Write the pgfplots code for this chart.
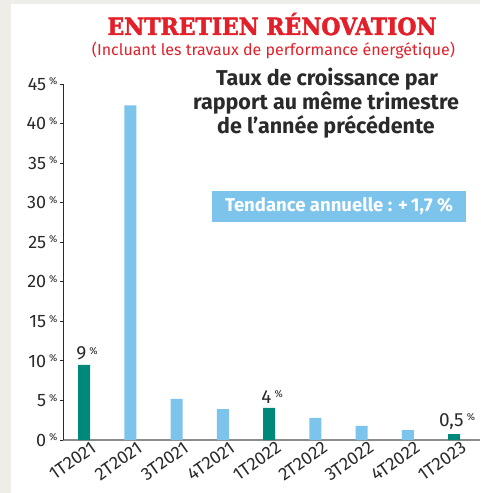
\documentclass[border=0pt]{standalone}
\usepackage{pgfplots}
\pgfplotsset{compat=1.18}
\usepackage{fontspec}
\setmainfont{Fira Sans}
\newfontfamily\titlefont{DejaVu Serif Condensed Bold}[FakeBold=2]

\definecolor{bgGray}{HTML}{EEEDE8}
\definecolor{titleRed}{HTML}{E3202A}
\definecolor{tealBar}{HTML}{00887A}
\definecolor{skyBar}{HTML}{7DC4EC}
\definecolor{inkDark}{HTML}{2A2A2A}

\begin{document}
\begin{tikzpicture}[x=1pt,y=1pt]
% page background and white panel
\fill[bgGray] (0,0) rectangle (480,493);
\fill[white] (11,0) rectangle (480,489);

\begin{axis}[
    at={(63pt,53pt)}, anchor=south west,
    scale only axis, width=417pt, height=356pt,
    xmin=-0.454, xmax=8.56, ymin=0, ymax=45,
    axis lines=left,
    axis line style={-},
    x axis line style={draw=black!45, line width=1.6pt},
    y axis line style={draw=inkDark, line width=0.8pt},
    /pgf/number format/assume math mode=true,
    ytick={0,5,...,45},
    yticklabel={\pgfmathprintnumber{\tick}\,\raisebox{0.3em}{\fontsize{10}{10}\selectfont\%}},
    y tick label style={font=\fontsize{18}{18}\selectfont, text=inkDark, xshift=1pt},
    tick align=outside, major tick length=3pt,
    major y tick style={draw=inkDark, line width=0.8pt},
    xtick={0,...,8},
    xticklabels={1T2021,2T2021,3T2021,4T2021,1T2022,2T2022,3T2022,4T2022,1T2023},
    major x tick style={draw=none},
    x tick label style={rotate=35, anchor=north east, font=\fontsize{18}{18}\selectfont,
        text=inkDark, xshift=10pt, yshift=2pt},
    clip=false,
]
\addplot[ybar, bar width=12pt, bar shift=0pt, fill=skyBar, draw=none]
    coordinates {(1,42.3) (2,5.2) (3,3.9) (5,2.8) (6,1.8) (7,1.25)};
\addplot[ybar, bar width=12pt, bar shift=0pt, fill=tealBar, draw=none,
    point meta=explicit symbolic,
    nodes near coords={\pgfplotspointmeta\,\raisebox{0.3em}{\fontsize{10}{10}\selectfont\%}},
    nodes near coords style={font=\fontsize{19}{19}\selectfont, text=inkDark, anchor=south, xshift=3pt, yshift=1pt}]
    coordinates {(0,9.5) [9] (4,4.05) [4] (8,0.75) [0,5]};
\end{axis}

% titles
\node[anchor=base, text=titleRed, inner sep=0] at (272,458)
    {\resizebox{329pt}{22pt}{\titlefont ENTRETIEN RÉNOVATION}};
\node[anchor=base, text=titleRed, inner sep=0] at (273.5,437)
    {\resizebox{363pt}{!}{(Incluant les travaux de performance énergétique)}};

% subtitle block
\node[anchor=base, text=inkDark, inner sep=0, font=\fontsize{21.5}{21.5}\selectfont\bfseries] at (327,407) {Taux de croissance par};
\node[anchor=base, text=inkDark, inner sep=0, font=\fontsize{21.5}{21.5}\selectfont\bfseries] at (326,383) {rapport au même trimestre};
\node[anchor=base, text=inkDark, inner sep=0, font=\fontsize{21.5}{21.5}\selectfont\bfseries] at (326,359) {de l’année précédente};

% trend box
\fill[skyBar] (212,271) rectangle (466,302);
\node[text=white, inner sep=0] at (339,286.5)
    {\resizebox{228pt}{!}{\bfseries Tendance annuelle : +\,1,7 \%}};
\end{tikzpicture}
\end{document}
